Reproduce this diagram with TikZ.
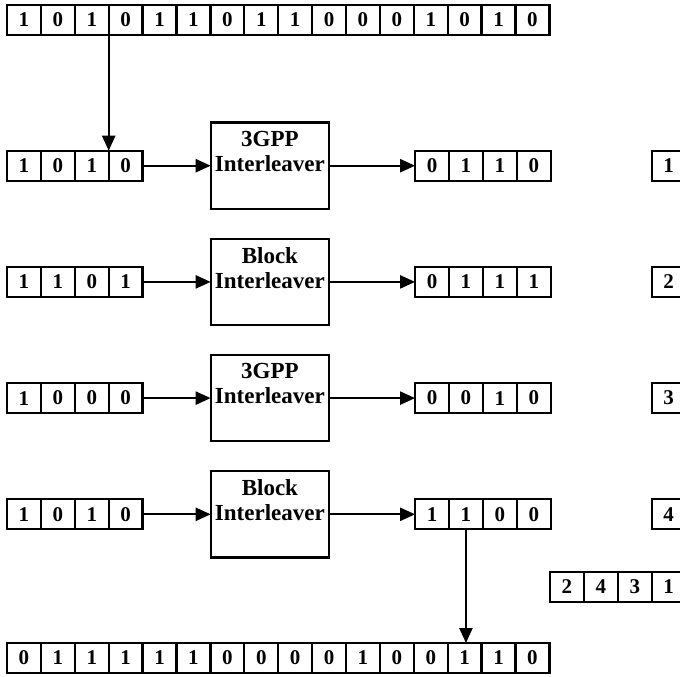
\documentclass[tikz,border=0pt]{standalone}
\usepackage{fontspec}
\setmainfont{Liberation Serif}
\usetikzlibrary{arrows.meta,positioning}

\begin{document}
\begin{tikzpicture}[
  x=0.5pt, y=-0.5pt,
  font=\bfseries\fontsize{10.5}{12}\selectfont,
  bit/.style={draw, line width=1.15pt, minimum width=16.95pt, minimum height=15pt,
              inner sep=0pt, outer sep=0pt, anchor=west},
  ilv/.style={draw, line width=1.15pt, minimum width=59.2pt, minimum height=43.2pt,
              inner sep=0pt, outer sep=0pt},
  ilvtxt/.style={anchor=north, align=center, inner sep=0pt,
                 font=\bfseries\fontsize{11.5}{12.5}\selectfont},
  pf/.style={-{Triangle[length=7.5pt, width=6.5pt]}, line width=1.15pt}
]
\useasboundingbox (0,0) rectangle (680,676);
\clip (0,0) rectangle (680,676);

% Eingangsfolge
\foreach \b [count=\i] in {1,0,1,0,1,1,0,1,1,0,0,0,1,0,1,0}
  \node[bit] (top-\i) at ({7+33.9*(\i-1)},20) {\b};

% Teilfolgen vor und nach dem Interleaver
\foreach \k/\yy/\inbits/\outbits in {1/165.7/{1,0,1,0}/{0,1,1,0},
                                     2/281.9/{1,1,0,1}/{0,1,1,1},
                                     3/398.1/{1,0,0,0}/{0,0,1,0},
                                     4/514.3/{1,0,1,0}/{1,1,0,0}}{
  \foreach \b [count=\i] in \inbits
    \node[bit] (in\k-\i) at ({7+33.9*(\i-1)},\yy) {\b};
  \foreach \b [count=\i] in \outbits
    \node[bit] (out\k-\i) at ({415.1+33.9*(\i-1)},\yy) {\b};
  \node[bit] (key-\k) at (651.7,\yy) {\k};
}

% Interleaver
\node[ilv] (ilv1) at (269.9,165.7) {};
\node[ilv] (ilv2) at (269.9,281.9) {};
\node[ilv] (ilv3) at (269.9,398.1) {};
\node[ilv] (ilv4) at (269.9,514.3) {};
\node[ilvtxt] (ilv1-txt) at ([yshift=-4pt]ilv1.north) {3GPP\\Interleaver};
\node[ilvtxt] (ilv2-txt) at ([yshift=-4pt]ilv2.north) {Block\\Interleaver};
\node[ilvtxt] (ilv3-txt) at ([yshift=-4pt]ilv3.north) {3GPP\\Interleaver};
\node[ilvtxt] (ilv4-txt) at ([yshift=-4pt]ilv4.north) {Block\\Interleaver};

\foreach \k in {1,2,3,4}{
  \draw[pf] (in\k-4.east) -- (ilv\k.west);
  \draw[pf] (ilv\k.east) -- (out\k-1.west);
}

% Permutation
\foreach \b [count=\i] in {2,4,3,1}
  \node[bit] (perm-\i) at ({550+33.9*(\i-1)},586.7) {\b};

% Ausgangsfolge
\foreach \b [count=\i] in {0,1,1,1,1,1,0,0,0,0,1,0,0,1,1,0}
  \node[bit] (bot-\i) at ({7+33.9*(\i-1)},658) {\b};

\draw[pf] (top-3.south east) -- (in1-3.north east);
\draw[pf] (out4-2.south) -- (out4-2.south |- bot-14.north);

\end{tikzpicture}
\end{document}
